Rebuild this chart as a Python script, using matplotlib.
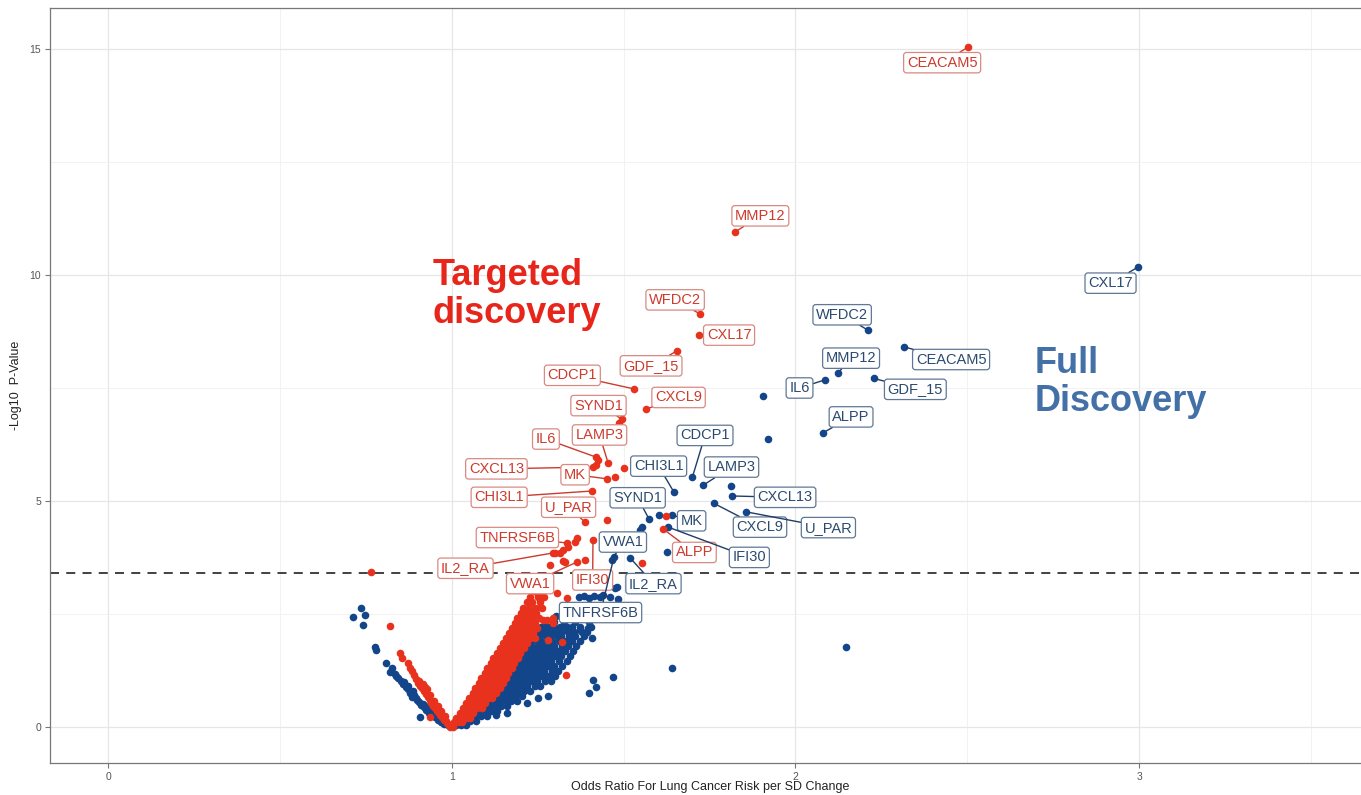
import matplotlib.pyplot as plt
from matplotlib.ticker import MultipleLocator

plt.rcParams['font.family'] = ['Liberation Sans', 'DejaVu Sans']

# labelled proteins - targeted discovery (red)
red_names = ["CEACAM5", "MMP12", "WFDC2", "CXL17", "GDF_15", "CDCP1", "CXCL9", "SYND1",
             "LAMP3", "IL6", "CXCL13", "MK", "CHI3L1", "U_PAR", "TNFRSF6B", "IL2_RA",
             "VWA1", "IFI30", "ALPP"]
red_or = [2.502, 1.824, 1.722, 1.720, 1.655, 1.530, 1.565, 1.496, 1.455, 1.420,
          1.410, 1.452, 1.408, 1.388, 1.335, 1.295, 1.365, 1.411, 1.615]
red_p = [15.04, 10.95, 9.14, 8.67, 8.32, 7.48, 7.03, 6.81, 5.84, 5.97,
         5.75, 5.49, 5.22, 4.53, 4.07, 3.85, 3.65, 4.14, 4.38]
red_lab_x = [2.427, 1.898, 1.650, 1.807, 1.580, 1.351, 1.660, 1.427, 1.430, 1.274,
             1.130, 1.359, 1.138, 1.340, 1.191, 1.040, 1.228, 1.410, 1.706]
red_lab_y = [14.70, 11.31, 9.45, 8.67, 7.99, 7.78, 7.29, 7.11, 6.46, 6.37,
             5.71, 5.58, 5.08, 4.86, 4.19, 3.51, 3.17, 3.25, 3.86]

# labelled proteins - full discovery (blue)
blue_names = ["CXL17", "WFDC2", "CEACAM5", "MMP12", "IL6", "GDF_15", "ALPP", "CDCP1",
              "CHI3L1", "LAMP3", "CXCL13", "SYND1", "MK", "CXCL9", "U_PAR", "IFI30",
              "VWA1", "IL2_RA", "TNFRSF6B"]
blue_or = [2.998, 2.211, 2.316, 2.125, 2.086, 2.229, 2.081, 1.700, 1.647, 1.732,
           1.815, 1.574, 1.640, 1.762, 1.856, 1.630, 1.466, 1.519, 1.472]
blue_p = [10.18, 8.78, 8.41, 7.84, 7.68, 7.71, 6.51, 5.52, 5.19, 5.35,
          5.11, 4.60, 4.69, 4.95, 4.76, 4.42, 3.69, 3.74, 3.76]
blue_lab_x = [2.917, 2.136, 2.453, 2.162, 2.012, 2.349, 2.162, 1.737, 1.602, 1.814,
              1.970, 1.541, 1.698, 1.897, 2.096, 1.866, 1.498, 1.587, 1.433]
blue_lab_y = [9.82, 9.12, 8.13, 8.16, 7.50, 7.47, 6.86, 6.45, 5.77, 5.75,
              5.08, 5.07, 4.56, 4.42, 4.41, 3.75, 4.09, 3.17, 2.53]

# unlabelled red points (odds ratio, -log10 p)
red_extra = [
    (0.765, 3.43), (0.820, 2.23), (0.850, 1.64), (0.855, 1.53), (0.873, 1.42), (0.879, 1.31),
    (0.884, 1.24), (0.889, 1.15), (0.895, 1.06), (0.902, 0.98), (0.907, 0.91), (0.913, 0.85),
    (0.918, 0.79), (0.924, 0.72), (0.930, 0.66), (0.936, 0.59), (0.941, 0.53), (0.946, 0.47),
    (0.952, 0.41), (0.957, 0.36), (0.962, 0.31), (0.967, 0.26), (0.972, 0.21), (0.977, 0.16),
    (0.982, 0.12), (0.987, 0.08), (0.992, 0.05), (0.996, 0.02), (0.915, 0.95), (0.927, 0.83),
    (0.938, 0.71), (0.949, 0.58), (0.960, 0.46), (0.970, 0.34), (0.980, 0.24), (0.937, 0.22),
    (0.905, 1.02), (0.921, 0.88),
    (1.623, 4.67), (1.452, 4.58), (1.500, 5.72), (1.475, 5.53), (1.426, 5.90), (1.420, 5.80),
    (1.487, 6.72), (1.554, 3.62), (1.365, 4.18), (1.360, 4.10), (1.338, 3.98), (1.324, 3.92),
    (1.315, 3.85), (1.300, 3.85), (1.330, 3.65), (1.286, 3.58), (1.324, 3.66), (1.388, 3.69),
    (1.250, 2.92), (1.263, 2.88), (1.335, 2.85), (1.306, 2.96), (1.257, 2.65), (1.242, 2.59),
    (1.266, 2.37), (1.295, 2.41), (1.280, 1.92), (1.320, 1.88), (1.333, 1.15), (1.295, 2.30),
    (1.277, 2.37),
]
red_rows = [
    (0.00, [0.996, 1.004]),
    (0.10, [1.006, 1.019, 1.031]),
    (0.20, [1.013, 1.028, 1.041, 1.053]),
    (0.31, [1.023, 1.036, 1.051, 1.063]),
    (0.42, [1.032, 1.047, 1.061, 1.073, 1.087]),
    (0.53, [1.041, 1.055, 1.069, 1.085, 1.097]),
    (0.64, [1.050, 1.066, 1.078, 1.092, 1.106, 1.117]),
    (0.75, [1.061, 1.073, 1.089, 1.101, 1.115, 1.129]),
    (0.86, [1.068, 1.084, 1.096, 1.112, 1.124, 1.139]),
    (0.97, [1.079, 1.091, 1.107, 1.119, 1.135, 1.149]),
    (1.08, [1.086, 1.102, 1.114, 1.130, 1.142, 1.157]),
    (1.19, [1.097, 1.109, 1.125, 1.137, 1.153, 1.165]),
    (1.30, [1.103, 1.119, 1.131, 1.147, 1.159, 1.175]),
    (1.41, [1.114, 1.126, 1.142, 1.154, 1.170, 1.182]),
    (1.52, [1.121, 1.137, 1.149, 1.165, 1.177, 1.193]),
    (1.63, [1.132, 1.144, 1.160, 1.172, 1.188, 1.200]),
    (1.74, [1.139, 1.155, 1.167, 1.183, 1.195, 1.211]),
    (1.85, [1.150, 1.162, 1.178, 1.190, 1.206, 1.218]),
    (1.96, [1.157, 1.173, 1.185, 1.201, 1.213, 1.229, 1.243]),
    (2.07, [1.168, 1.180, 1.196, 1.208, 1.224, 1.236]),
    (2.18, [1.175, 1.191, 1.203, 1.219, 1.231, 1.247]),
    (2.29, [1.185, 1.197, 1.213, 1.225, 1.241]),
    (2.40, [1.191, 1.207, 1.219, 1.235, 1.253]),
    (2.52, [1.201, 1.213, 1.231, 1.245]),
    (2.64, [1.207, 1.225, 1.241, 1.263]),
    (2.76, [1.219, 1.235, 1.257]),
    (2.88, [1.227, 1.251, 1.269]),
    (3.00, [1.239, 1.261]),
    (3.12, [1.249, 1.275]),
    (3.25, [1.263]),
]

# unlabelled blue points
blue_extra = [
    (0.713, 2.43), (0.736, 2.63), (0.748, 2.48), (0.742, 2.26), (0.777, 1.77), (0.780, 1.70),
    (0.810, 1.42), (0.826, 1.31), (0.820, 1.22), (0.834, 1.16), (0.844, 1.08), (0.851, 1.01),
    (0.858, 0.95), (0.866, 0.88), (0.873, 0.84), (0.887, 0.80), (0.879, 0.75), (0.889, 0.70),
    (0.896, 0.63), (0.904, 0.56), (0.911, 0.49), (0.918, 0.43), (0.926, 0.37), (0.934, 0.31),
    (0.942, 0.26), (0.950, 0.21), (0.959, 0.16), (0.968, 0.11), (0.978, 0.07), (0.988, 0.03),
    (0.908, 0.22), (0.899, 0.59), (0.885, 0.66), (0.915, 0.51), (0.929, 0.41), (0.944, 0.31),
    (0.955, 0.24), (0.964, 0.18), (0.975, 0.12), (0.839, 1.12), (0.862, 0.99), (0.872, 0.91),
    (0.922, 0.47), (0.937, 0.36),
    (1.906, 7.33), (1.920, 6.36), (1.626, 3.87), (1.553, 4.42), (1.548, 4.36), (1.603, 4.69),
    (1.813, 5.33), (2.147, 1.77), (1.640, 1.30), (1.470, 1.11), (1.410, 1.04), (1.420, 0.88),
    (1.400, 0.75), (1.484, 2.83), (1.475, 3.07), (1.480, 3.10), (1.370, 2.88), (1.385, 2.90),
    (1.400, 2.86), (1.415, 2.90), (1.430, 2.87), (1.440, 2.92), (1.460, 2.88), (1.335, 2.21),
    (1.373, 2.15), (1.397, 2.19), (1.408, 1.97), (1.220, 0.53), (1.250, 0.64), (1.280, 0.69),
    (1.130, 0.27), (1.160, 0.30),
]
blue_rows = [
    (0.03, [1.012, 1.026, 1.041]),
    (0.13, [1.024, 1.041, 1.054, 1.071]),
    (0.24, [1.041, 1.053, 1.071, 1.084, 1.102]),
    (0.35, [1.051, 1.069, 1.083, 1.101, 1.114, 1.132]),
    (0.46, [1.065, 1.079, 1.097, 1.111, 1.129, 1.143, 1.161]),
    (0.57, [1.075, 1.093, 1.107, 1.125, 1.139, 1.157, 1.171, 1.189]),
    (0.68, [1.089, 1.103, 1.121, 1.135, 1.153, 1.167, 1.185, 1.203]),
    (0.79, [1.097, 1.115, 1.129, 1.147, 1.161, 1.179, 1.193, 1.211, 1.228]),
    (0.90, [1.109, 1.123, 1.141, 1.155, 1.173, 1.187, 1.205, 1.219, 1.241, 1.258]),
    (1.01, [1.117, 1.135, 1.149, 1.167, 1.181, 1.199, 1.213, 1.231, 1.249, 1.271, 1.288]),
    (1.12, [1.129, 1.143, 1.161, 1.175, 1.193, 1.207, 1.225, 1.239, 1.261, 1.279, 1.301]),
    (1.23, [1.137, 1.155, 1.169, 1.187, 1.201, 1.219, 1.233, 1.251, 1.269, 1.291, 1.309]),
    (1.34, [1.149, 1.163, 1.181, 1.195, 1.213, 1.227, 1.245, 1.259, 1.281, 1.299, 1.321]),
    (1.45, [1.157, 1.175, 1.189, 1.207, 1.221, 1.239, 1.253, 1.271, 1.289, 1.311, 1.336]),
    (1.56, [1.169, 1.183, 1.201, 1.215, 1.233, 1.247, 1.265, 1.279, 1.301, 1.319, 1.344]),
    (1.67, [1.177, 1.195, 1.209, 1.227, 1.241, 1.259, 1.273, 1.291, 1.309, 1.331, 1.352]),
    (1.78, [1.189, 1.203, 1.221, 1.235, 1.253, 1.267, 1.285, 1.299, 1.321, 1.339, 1.361]),
    (1.89, [1.197, 1.215, 1.229, 1.247, 1.261, 1.279, 1.293, 1.311, 1.329, 1.351, 1.372]),
    (2.00, [1.209, 1.223, 1.241, 1.255, 1.273, 1.287, 1.305, 1.319, 1.341, 1.359, 1.384]),
    (2.11, [1.221, 1.239, 1.253, 1.271, 1.285, 1.303, 1.317, 1.339, 1.357, 1.379, 1.393]),
    (2.22, [1.243, 1.261, 1.279, 1.297, 1.315, 1.333, 1.351, 1.373, 1.404]),
    (2.33, [1.271, 1.299, 1.327, 1.359, 1.398]),
    (2.45, [1.302, 1.341, 1.379]),
]

threshold = 3.41

RED = "#e8321e"
BLUE = "#12458a"

red_x = [p[0] for p in red_extra] + [x for y, xs in red_rows for x in xs] + red_or
red_y = [p[1] for p in red_extra] + [y for y, xs in red_rows for x in xs] + red_p
blue_x = [p[0] for p in blue_extra] + [x for y, xs in blue_rows for x in xs] + blue_or
blue_y = [p[1] for p in blue_extra] + [y for y, xs in blue_rows for x in xs] + blue_p

fig = plt.figure(figsize=(13.61, 7.95), dpi=100)
ax = fig.add_axes([50 / 1361, 1 - 763 / 795, 1320 / 1361, 755 / 795])

ax.scatter(blue_x, blue_y, s=30, color=BLUE, linewidths=0, zorder=3)
ax.scatter(red_x, red_y, s=30, color=RED, linewidths=0, zorder=4)
ax.axhline(threshold, color="#333333", lw=1.3, ls=(0, (5, 4)), zorder=2)

for name, px, py, lx, ly in zip(red_names, red_or, red_p, red_lab_x, red_lab_y):
    ax.annotate(name, xy=(px, py), xytext=(lx, ly), ha="center", va="center",
                fontsize=10.5, color="#cc3b2e",
                bbox=dict(boxstyle="round,pad=0.22,rounding_size=0.2", fc="white",
                          ec="#d98a82", lw=0.9),
                arrowprops=dict(arrowstyle="-", color="#cc3b2e", lw=1.0,
                                shrinkA=0, shrinkB=2),
                zorder=6)

for name, px, py, lx, ly in zip(blue_names, blue_or, blue_p, blue_lab_x, blue_lab_y):
    ax.annotate(name, xy=(px, py), xytext=(lx, ly), ha="center", va="center",
                fontsize=10.5, color="#2a4a70",
                bbox=dict(boxstyle="round,pad=0.22,rounding_size=0.2", fc="white",
                          ec="#5f7896", lw=0.9),
                arrowprops=dict(arrowstyle="-", color="#1f3d66", lw=1.0,
                                shrinkA=0, shrinkB=2),
                zorder=6)

ax.text(0.943, 10.38, "Targeted\ndiscovery", ha="left", va="top", fontsize=26,
        fontweight="bold", color="#e8251a", linespacing=1.1, zorder=7)
ax.text(2.697, 8.42, "Full\nDiscovery", ha="left", va="top", fontsize=26,
        fontweight="bold", color="#4470a8", linespacing=1.1, zorder=7)

ax.set_xlim(-0.169, 3.672)
ax.set_ylim(-0.80, 15.91)
ax.xaxis.set_major_locator(MultipleLocator(1))
ax.xaxis.set_minor_locator(MultipleLocator(0.5))
ax.yaxis.set_major_locator(MultipleLocator(5))
ax.yaxis.set_minor_locator(MultipleLocator(2.5))
ax.grid(True, which="major", color="#e6e6e6", lw=0.9, zorder=0)
ax.grid(True, which="minor", color="#f2f2f2", lw=0.7, zorder=0)
ax.set_axisbelow(True)
ax.tick_params(which="major", length=3.5, width=0.8, color="#777777",
               labelsize=7.5, labelcolor="#555555", pad=3)
ax.tick_params(which="minor", length=0)
for sp in ax.spines.values():
    sp.set_color("#777777")
    sp.set_linewidth(0.9)

ax.set_xlabel("Odds Ratio For Lung Cancer Risk per SD Change", fontsize=9,
              color="#222222")
ax.xaxis.set_label_coords(0.5, -0.024)
ax.set_ylabel("-Log10  P-Value", fontsize=9, color="#222222")
ax.yaxis.set_label_coords(-0.021, 0.5)

fig.savefig("out.png", dpi=100)
